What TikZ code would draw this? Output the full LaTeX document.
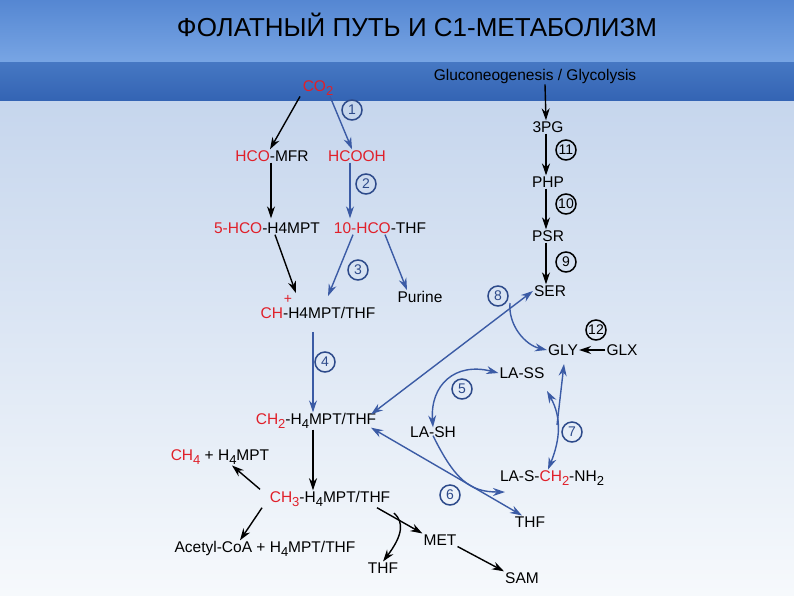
\documentclass[tikz,border=0pt]{standalone}
\usepackage{fontspec}
\setmainfont{Liberation Sans}
\usetikzlibrary{arrows.meta}
\definecolor{rd}{HTML}{E0202A}
\definecolor{bl}{HTML}{3B5BA5}
\definecolor{cb}{HTML}{2D4A8A}
\newcommand{\sbx}[1]{\raisebox{-0.45ex}{\fontsize{13}{14}\selectfont #1}}
\begin{document}
\begin{tikzpicture}[x=1pt,y=-1pt,
 lbl/.style={font=\fontsize{15.5}{17}\selectfont, inner sep=1pt},
 num/.style={circle,draw=cb,line width=1.5pt,text=cb,inner sep=0pt,minimum size=20pt,font=\fontsize{14}{15}\selectfont},
 numk/.style={num,draw=black,text=black},
 ba/.style={-{Stealth[length=12pt,width=8pt]},line width=1.4pt,black},
 bu/.style={-{Stealth[length=12pt,width=8pt]},line width=1.4pt,bl},
 bb/.style={{Stealth[length=12pt,width=8pt]}-{Stealth[length=12pt,width=8pt]},line width=1.4pt,bl}]
\useasboundingbox (0,0) rectangle (794,595);
\shade[top color={rgb,255:red,198;green,214;blue,237}, bottom color={rgb,255:red,246;green,249;blue,252}] (0,100) rectangle (794,595);
\shade[top color={rgb,255:red,85;green,135;blue,210}, bottom color={rgb,255:red,120;green,165;blue,228}] (0,0) rectangle (794,62);
\shade[top color={rgb,255:red,70;green,120;blue,195}, bottom color={rgb,255:red,52;green,100;blue,180}] (0,62) rectangle (794,100);
\node[font=\fontsize{26}{28}\selectfont] (title) at (417,25) {ФОЛАТНЫЙ ПУТЬ И С1-МЕТАБОЛИЗМ};

\node[lbl] (co2) at (318,88) {\textcolor{rd}{CO\sbx{2}}};
\node[lbl] (mfr) at (272,156) {\textcolor{rd}{HCO}-MFR};
\node[lbl] (hcooh) at (357,156) {\textcolor{rd}{HCOOH}};
\node[lbl] (hmpt) at (267,228) {\textcolor{rd}{5-HCO}-H4MPT};
\node[lbl] (thf10) at (380,228) {\textcolor{rd}{10-HCO}-THF};
\node[lbl] (pur) at (420,297) {Purine};
\node[lbl] (ch) at (318,313) {\textcolor{rd}{CH}-H4MPT/THF};
\node[font=\fontsize{14}{15}\selectfont,text=rd,inner sep=0pt] (plus) at (288,299) {+};
\node[lbl] (ch2) at (316,421) {\textcolor{rd}{CH\sbx{2}}-H\sbx{4}MPT/THF};
\node[lbl] (ch4) at (220,457) {\textcolor{rd}{CH\sbx{4}} + H\sbx{4}MPT};
\node[lbl] (ch3) at (330,499) {\textcolor{rd}{CH\sbx{3}}-H\sbx{4}MPT/THF};
\node[lbl] (acc) at (265,549) {Acetyl-CoA + H\sbx{4}MPT/THF};
\node[lbl] (thfa) at (383,568) {THF};
\node[lbl] (met) at (440,540) {MET};
\node[lbl] (sam) at (522,578) {SAM};
\node[lbl] (glu) at (535,76) {Gluconeogenesis / Glycolysis};
\node[lbl] (pg) at (548,127) {3PG};
\node[lbl] (php) at (548,182) {PHP};
\node[lbl] (psr) at (548,236) {PSR};
\node[lbl] (ser) at (550,291) {SER};
\node[lbl] (gly) at (563,350) {GLY};
\node[lbl] (glx) at (622,350) {GLX};
\node[lbl] (lass) at (522,373) {LA-SS};
\node[lbl] (lash) at (433,432) {LA-SH};
\node[lbl] (lasc) at (552,478) {LA-S-\textcolor{rd}{CH\sbx{2}}-NH\sbx{2}};
\node[lbl] (thfb) at (530,522) {THF};

\node[num] (n1) at (352,110) {1};
\node[num] (n2) at (366,184) {2};
\node[num] (n3) at (358,270) {3};
\node[num] (n4) at (325,362) {4};
\node[num] (n5) at (462,389) {5};
\node[num] (n6) at (450,495) {6};
\node[num] (n7) at (572,432) {7};
\node[num] (n8) at (498,296) {8};
\node[numk] (n9) at (566,262) {9};
\node[numk] (n10) at (566,204) {10};
\node[numk] (n11) at (566,150) {11};
\node[numk] (n12) at (596,330) {12};

\draw[ba] ([xshift=-18pt]co2.south) -- ([xshift=-2pt]mfr.north);
\draw[bu] ([xshift=12pt]co2.south) -- ([xshift=-5pt]hcooh.north);
\draw[ba] ([xshift=-1pt]mfr.south) -- ([xshift=4pt,yshift=3pt]hmpt.north);
\draw[bu] ([xshift=-7pt]hcooh.south) -- ([xshift=-30pt,yshift=3pt]thf10.north);
\draw[ba] ([xshift=8pt]hmpt.south) -- ([xshift=-22pt,yshift=13pt]ch.north);
\draw[bu] ([xshift=-27pt]thf10.south) -- ([xshift=10pt,yshift=10pt]ch.north);
\draw[bu] ([xshift=5pt]thf10.south) -- ([xshift=-13pt]pur.north);
\draw[bu] ([xshift=-5pt,yshift=-12pt]ch.south) -- ([xshift=-3pt]ch2.north);
\draw[ba] ([xshift=-3pt]ch2.south) -- ([xshift=-17pt]ch3.north);
\draw[ba] ([xshift=-70pt,yshift=1pt]ch3.north) -- ([xshift=12pt]ch4.south);
\draw[ba] ([xshift=-68pt]ch3.south) -- ([xshift=-25pt]acc.north);
\draw[ba] ([xshift=47pt]ch3.south) -- (met.north west);
\draw[ba] (394,513) .. controls (404,522) and (403,535) .. (thfa.north);
\draw[ba] ([xshift=0pt]met.south east) -- (sam.north west);
\draw[ba] ([xshift=10pt]glu.south) -- ([xshift=-2pt]pg.north);
\draw[ba] ([xshift=-2pt]pg.south) -- ([xshift=-2pt]php.north);
\draw[ba] ([xshift=-2pt]php.south) -- ([xshift=-2pt]psr.north);
\draw[ba] ([xshift=-2pt]psr.south) -- ([xshift=-4pt]ser.north);
\draw[bb] (ser.west) -- ([xshift=55pt,yshift=-2pt]ch2.north);
\draw[bu] (510,303) .. controls (508,325) and (525,345) .. (gly.west);
\draw[ba] (glx.west) -- (gly.east);
\draw[bb] (lass.west) .. controls (455,362) and (430,385) .. ([yshift=-2pt]lash.north);
\draw[bb] (547,391) .. controls (562,418) and (560,440) .. ([xshift=-4pt]lasc.north);
\draw[bu] (557,425) -- (564,364);
\draw[bb] ([xshift=-8pt]thfb.north) -- ([xshift=55pt,yshift=2pt]ch2.south);
\draw[bu] ([yshift=3pt]lash.south) .. controls (455,480) and (470,492) .. (505,492);
\end{tikzpicture}
\end{document}
